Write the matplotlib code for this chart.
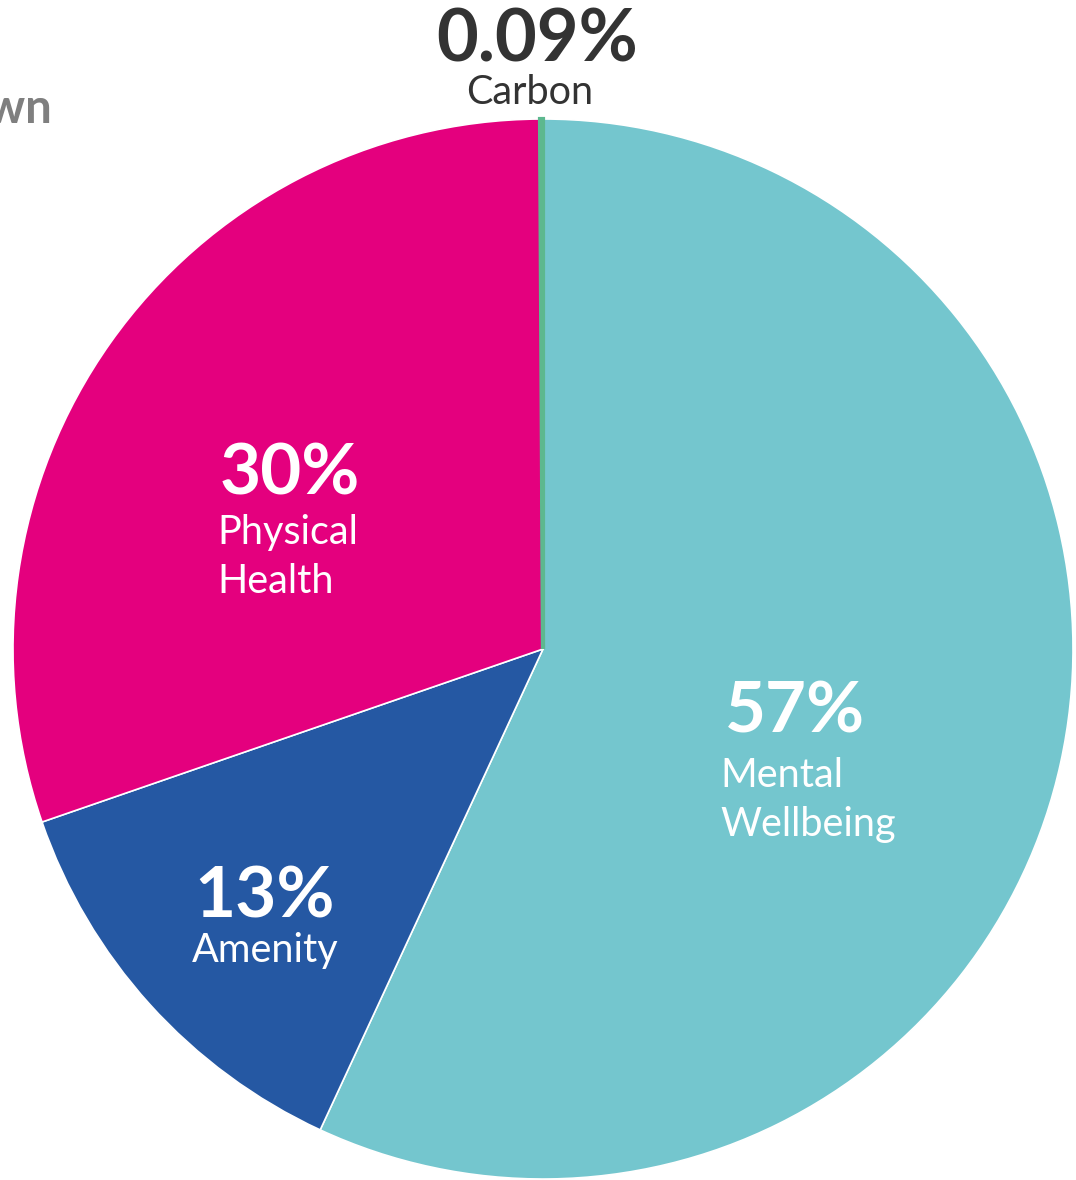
import matplotlib.pyplot as plt

plt.rcParams['font.family'] = ['Lato', 'DejaVu Sans']

# slice data (clockwise from 12 o'clock)
labels = ["Mental\nWellbeing", "Amenity", "Physical\nHealth", "Carbon"]
values = [56.9, 12.8, 30.2, 0.09]
pct_text = ["57%", "13%", "30%", "0.09%"]
colors = ["#74C6CE", "#2558A3", "#E4007E", "#5DB88F"]

W, H = 1076, 1180
cx, cy, R = 543, 649, 530  # pie centre / radius in pixels


def px(x, y):
    # pixel position -> data coords (pie radius = 1)
    return (x - cx) / R, (cy - y) / R


fig = plt.figure(figsize=(W / 100, H / 100), dpi=100)
ax = fig.add_axes([0, 0, 1, 1])
wedges, _ = ax.pie(values, colors=colors, startangle=90, counterclock=False,
                   wedgeprops=dict(edgecolor="white", linewidth=1.2))
# tiny carbon slice: outline in its own colour so it stays visible
wedges[-1].set_edgecolor(colors[-1])
wedges[-1].set_linewidth(3)
ax.set_xlim(-cx / R, (W - cx) / R)
ax.set_ylim(-(H - cy) / R, cy / R)
ax.set_aspect("auto")
ax.axis("off")

# label layout: (pct baseline pos, last-line baseline pos, ha, colour)
layout = [
    ((725, 733), (720, 836), "left", "white"),
    ((265, 918), (265, 962), "center", "white"),
    ((220, 495), (217, 593), "left", "white"),
    ((537, 62), (530, 104), "center", "#333333"),
]
for i, (p1, p2, ha, c) in enumerate(layout):
    x, y = px(*p1)
    ax.text(x, y, pct_text[i], ha=ha, va="baseline", color=c,
            fontsize=51 if i < 3 else 52, fontweight="bold")
    x, y = px(*p2)
    ax.text(x, y, labels[i], ha=ha, va="baseline", color=c,
            fontsize=28.5, linespacing=1.4, multialignment=ha)

# clipped title on the left
x, y = px(52, 123)
ax.text(x, y, "Breakdown", ha="right", va="baseline", color="#7F7F7F",
        fontsize=34, fontweight="bold")

fig.savefig("out.png", dpi=100)
